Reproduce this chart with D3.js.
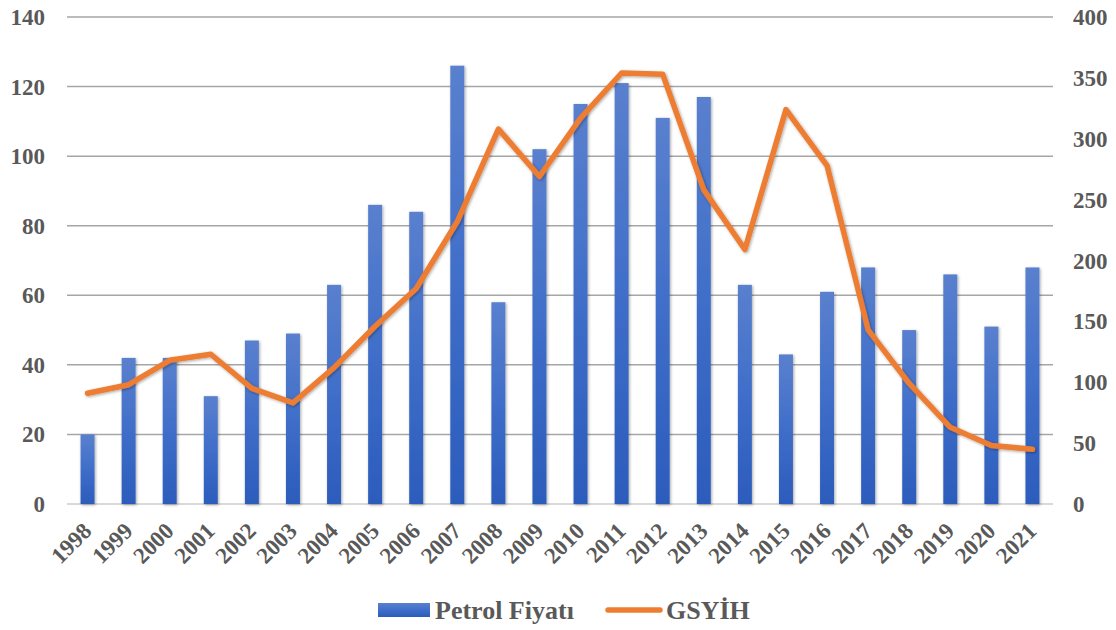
<!DOCTYPE html>
<html>
<head>
<meta charset="utf-8">
<script src="https://cdn.jsdelivr.net/npm/d3@7"></script>
<style>
  body { margin: 0; background: #fff; }
</style>
</head>
<body>
<div id="content"></div>
<script>
const years = ["1998","1999","2000","2001","2002","2003","2004","2005","2006","2007","2008","2009",
               "2010","2011","2012","2013","2014","2015","2016","2017","2018","2019","2020","2021"]
const petrol = [20, 42, 42, 31, 47, 49, 63, 86, 84, 126, 58, 102, 115, 121, 111, 117, 63, 43, 61, 68, 50, 66, 51, 68]
const gsyih = [91, 98, 118, 123, 95, 83, 112, 146, 177, 232, 308, 269, 317, 354, 353, 258, 209, 324, 278, 143, 99, 63, 48, 45]
const leftTicks = [0, 20, 40, 60, 80, 100, 120, 140]
const rightTicks = [0, 50, 100, 150, 200, 250, 300, 350, 400]

const outerWidth = 1116
const outerHeight = 630
const margin = {top: 17, right: 63, bottom: 126, left: 67}
const width = outerWidth - margin.left - margin.right
const height = outerHeight - margin.top - margin.bottom
const serif = "Liberation Serif"

const svg = d3.select("#content").append("svg")
    .attr("width", outerWidth)
    .attr("height", outerHeight)

const defs = svg.append("defs")
const grad = defs.append("linearGradient")
    .attr("id", "barGrad")
    .attr("x1", 0).attr("y1", 0).attr("x2", 0).attr("y2", 1)
grad.append("stop").attr("offset", "0%").attr("stop-color", "#5a80ce")
grad.append("stop").attr("offset", "50%").attr("stop-color", "#3f6ec9")
grad.append("stop").attr("offset", "100%").attr("stop-color", "#2c5cbc")

const shadow = defs.append("filter").attr("id", "shadow")
    .attr("x", "-50%").attr("y", "-10%").attr("width", "200%").attr("height", "130%")
shadow.append("feDropShadow")
    .attr("dx", 1).attr("dy", 1).attr("stdDeviation", 1.6)
    .attr("flood-color", "#000").attr("flood-opacity", 0.35)

const wrapper = svg.append("g")
    .attr("transform", `translate(${margin.left}, ${margin.top})`)

// scales
const xScale = d3.scaleBand()
    .domain(years)
    .range([0, width])
    .paddingInner(0.66)
    .paddingOuter(0.33)
const xPoint = d => xScale(d) + xScale.bandwidth() / 2

const yLeft = d3.scaleLinear().domain([0, 140]).range([height, 0])
const yRight = d3.scaleLinear().domain([0, 400]).range([height, 0])

// gridlines
wrapper.append("g")
    .selectAll("line")
    .data(leftTicks)
    .join("line")
    .attr("x1", 0).attr("x2", width)
    .attr("y1", d => yLeft(d)).attr("y2", d => yLeft(d))
    .style("stroke", d => d === 0 ? "#d9d9d9" : "#a6a6a6")
    .style("stroke-width", d => d === 0 ? 2 : 1.5)

// shared text style
const styleText = sel => sel
    .attr("font-family", serif)
    .attr("font-weight", "bold")
    .attr("fill", "#595959")

// left axis labels
wrapper.append("g")
    .selectAll("text")
    .data(leftTicks)
    .join("text")
    .call(styleText)
    .attr("x", -22)
    .attr("y", d => yLeft(d))
    .attr("dy", "0.35em")
    .attr("text-anchor", "end")
    .attr("font-size", 23)
    .text(d => d)

// right axis labels
wrapper.append("g")
    .selectAll("text")
    .data(rightTicks)
    .join("text")
    .call(styleText)
    .attr("x", width + 20)
    .attr("y", d => yRight(d))
    .attr("dy", "0.35em")
    .attr("text-anchor", "start")
    .attr("font-size", 23)
    .text(d => d)

// x labels
wrapper.append("g")
    .selectAll("text")
    .data(years)
    .join("text")
    .call(styleText)
    .attr("transform", d => `translate(${xPoint(d) - 6}, ${height + 17}) rotate(-45)`)
    .attr("text-anchor", "end")
    .attr("dy", "0.7em")
    .attr("font-size", 23)
    .text(d => d)

// bars
wrapper.append("g")
    .selectAll("rect")
    .data(petrol)
    .join("rect")
    .attr("x", (d, i) => xScale(years[i]))
    .attr("y", d => yLeft(d))
    .attr("width", xScale.bandwidth())
    .attr("height", d => height - yLeft(d))
    .attr("fill", "url(#barGrad)")
    .attr("filter", "url(#shadow)")

// line
const line = d3.line()
    .x((d, i) => xPoint(years[i]))
    .y(d => yRight(d))

wrapper.append("path")
    .datum(gsyih)
    .attr("d", line)
    .attr("fill", "none")
    .style("stroke", "#ed7d31")
    .style("stroke-width", 5.5)
    .style("stroke-linejoin", "round")
    .style("stroke-linecap", "round")
    .attr("filter", "url(#shadow)")

// legend
const legend = svg.append("g")
const ly = 610
legend.append("rect")
    .attr("x", 378).attr("y", ly - 7)
    .attr("width", 52).attr("height", 14)
    .attr("fill", "url(#barGrad)")
legend.append("text")
    .call(styleText)
    .attr("x", 435).attr("y", ly)
    .attr("dy", "0.35em")
    .attr("font-size", 26)
    .text("Petrol Fiyatı")
legend.append("line")
    .attr("x1", 608).attr("x2", 660)
    .attr("y1", ly).attr("y2", ly)
    .style("stroke", "#ed7d31")
    .style("stroke-width", 5.5)
    .style("stroke-linecap", "round")
legend.append("text")
    .call(styleText)
    .attr("x", 666).attr("y", ly)
    .attr("dy", "0.35em")
    .attr("font-size", 26)
    .text("GSYİH")
</script>
</body>
</html>
